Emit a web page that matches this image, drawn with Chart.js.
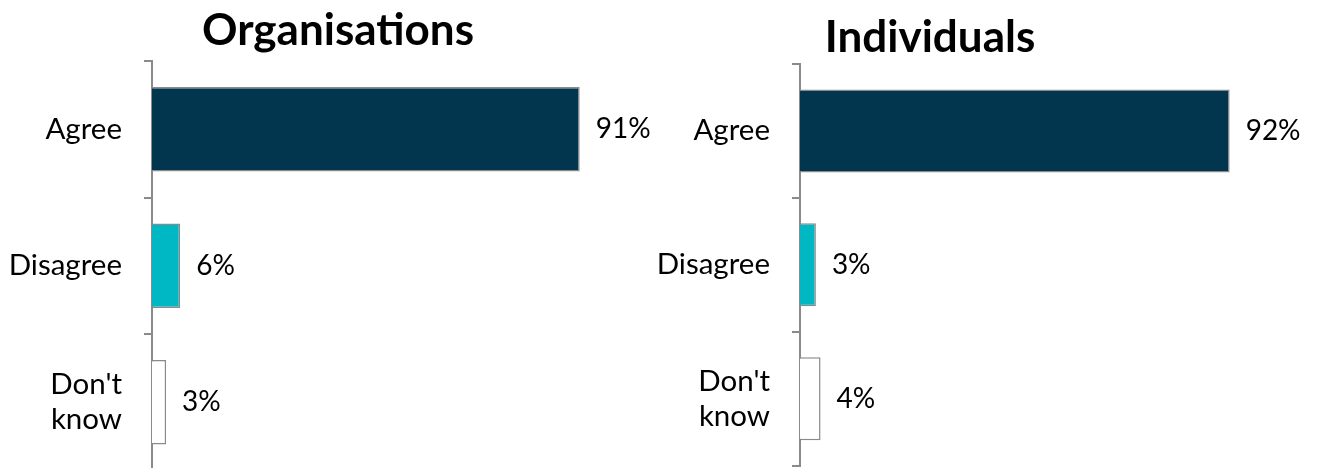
<!DOCTYPE html>
<html>
<head>
<meta charset="utf-8">
<script src="https://cdn.jsdelivr.net/npm/chart.js@4/dist/chart.umd.min.js"></script>
<style>
  html, body { margin: 0; padding: 0; background: #fff; overflow: hidden; }
  #wrap { position: relative; width: 1321px; height: 468px; overflow: hidden; }
  canvas { position: absolute; top: 0; }
</style>
</head>
<body>
<div id="wrap">
  <canvas id="orgChart" width="676" height="476" style="left:0;width:676px;height:476px;"></canvas>
  <canvas id="indChart" width="681" height="468" style="left:640px;width:681px;height:468px;"></canvas>
</div>
<script>
// ---- data ----
const categories = ['Agree', 'Disagree', ["Don't", 'know']];
const orgTitle = 'Organisations';
const indTitle = 'Individuals';
const orgValues = [91, 6, 3];
const indValues = [92, 3.4, 4.4];
const axisMax = 100;

const FONT = 'Lato, "Open Sans", sans-serif';

const valueLabels = {
  id: 'valueLabels',
  afterDatasetsDraw(chart) {
    const ctx = chart.ctx;
    const meta = chart.getDatasetMeta(0);
    const vals = chart.data.datasets[0].data;
    ctx.save();
    ctx.font = '28px ' + FONT;
    ctx.fillStyle = '#000';
    ctx.textAlign = 'left';
    ctx.textBaseline = 'middle';
    meta.data.forEach((bar, i) => {
      ctx.fillText(Math.round(vals[i]) + '%', bar.x + 16, bar.y);
    });
    ctx.restore();
  }
};

const titleDraw = {
  id: 'titleDraw',
  afterDraw(chart, args, opts) {
    const ctx = chart.ctx;
    ctx.save();
    ctx.font = 'bold 44px ' + FONT;
    ctx.fillStyle = '#000';
    ctx.textAlign = 'center';
    ctx.textBaseline = 'alphabetic';
    ctx.fillText(opts.text, opts.x, opts.y);
    ctx.restore();
  }
};

function makeChart(id, values, title, cfg) {
  return new Chart(document.getElementById(id), {
    type: 'bar',
    data: {
      labels: categories,
      datasets: [{
        data: values,
        backgroundColor: ['#02354E', '#00B8C4', '#FFFFFF'],
        borderColor: '#8A8A8A',
        borderWidth: 1.5,
        barPercentage: 0.62,
        categoryPercentage: 1.0
      }]
    },
    options: {
      indexAxis: 'y',
      responsive: false,
      animation: false,
      events: [],
      layout: { padding: { top: cfg.top, bottom: cfg.bottom, left: 0, right: cfg.right } },
      plugins: {
        legend: { display: false },
        tooltip: { enabled: false },
        title: { display: false },
        titleDraw: { text: title, x: cfg.titleX, y: cfg.titleY }
      },
      scales: {
        x: { display: false, min: 0, max: axisMax },
        y: {
          display: true,
          offset: true,
          afterFit(scale) {
            scale.width = cfg.axisW;
            scale.paddingTop = 0;
            scale.paddingBottom = 0;
          },
          border: { display: true, color: '#8A8A8A', width: 2 },
          grid: { display: true, offset: true, drawOnChartArea: false, drawTicks: true, tickLength: 8, color: '#8A8A8A', lineWidth: 2 },
          ticks: { color: '#000', font: { family: FONT, size: 29.5 }, padding: 22, crossAlign: 'near' }
        }
      }
    },
    plugins: [valueLabels, titleDraw]
  });
}

makeChart('orgChart', orgValues, orgTitle, { top: 61, bottom: 5.5, right: 54, axisW: 152, titleX: 338, titleY: 45 });
makeChart('indChart', indValues, indTitle, { top: 64, bottom: 2.3, right: 54, axisW: 160, titleX: 290, titleY: 52 });
</script>
</body>
</html>
